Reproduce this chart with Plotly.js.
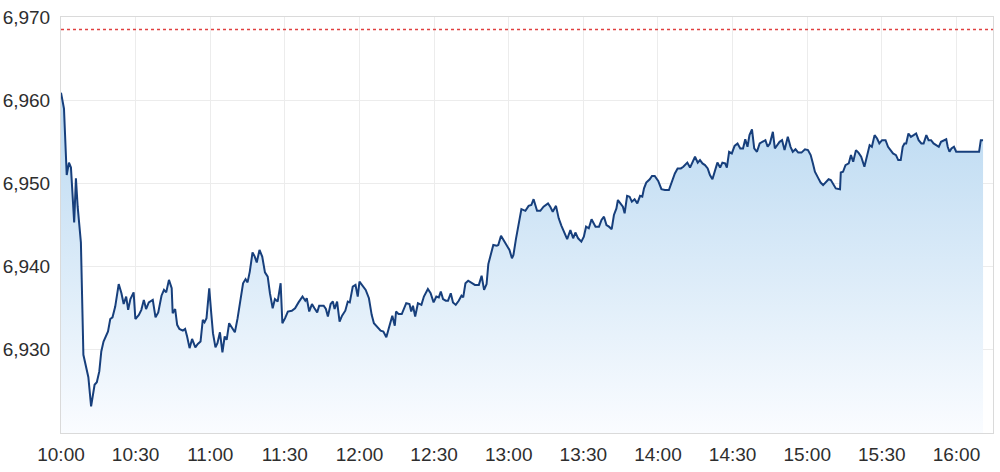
<!DOCTYPE html>
<html>
<head>
<meta charset="utf-8">
<script src="https://cdn.plot.ly/plotly-3.0.1.min.js"></script>
<style>
  html, body { margin: 0; padding: 0; background: #ffffff; }
  #chart { width: 1000px; height: 472px; }
</style>
</head>
<body>
<div id="chart"></div>
<script>
// Intraday index level, minutes after 10:00 and the traded level
const tradeDate = '2024-03-08';
const minutes = [
  0, 1.2, 2.3, 3.2, 4, 5.3, 6, 6.7, 8, 9, 11, 12.1, 13.5, 14.4, 15.4, 16.2, 17.1, 18.9, 19.8, 20.7,
  21.8, 23.2, 24.3, 25.2, 26.2, 27, 27.9, 29.2, 29.9, 31.3, 32.3, 33.3, 34.2, 35.3, 36.9, 38, 39.1, 40.4, 41.4, 42.3,
  43.4, 44.5, 44.9, 45.9, 46.7, 47.6, 49.0, 49.9, 50.7, 51.7, 52.7, 54.0, 55.0, 56.1, 57.0, 57.7, 58.5, 59.6, 60.4, 61.1,
  62.1, 62.9, 63.9, 64.9, 65.8, 66.6, 67.6, 68.8, 69.9, 71.0, 71.9, 73.2, 74.2, 75.0, 75.9, 77.0, 77.9, 78.7, 79.8, 80.9,
  82.0, 83.1, 84.0, 85.1, 86.0, 87.1, 88.3, 89.0, 90.1, 91.2, 92.8, 94.1, 95.5, 97.1, 98.2, 98.8, 99.8, 100.9, 101.9, 103.0,
  103.8, 105.6, 106.5, 107.3, 108.4, 109.3, 110.0, 111.0, 112.0, 113.0, 114.3, 115.3, 116.1, 117.3, 118.4, 119.3, 120.0, 121.1, 122.5, 123.8,
  124.9, 125.8, 127.2, 128.5, 129.6, 130.8, 131.9, 133.2, 134.2, 134.7, 135.7, 137.0, 138.8, 140.1, 140.8, 141.5, 142.4, 143.5, 144.9, 145.9,
  147.5, 148.6, 149.8, 150.9, 151.9, 152.7, 153.6, 154.7, 155.6, 156.7, 157.6, 158.7, 159.9, 161.0, 161.7, 162.6, 163.7, 165.1, 166.4, 168.0,
  169.1, 170.1, 171.1, 171.8, 172.9, 173.8, 175.2, 175.8, 176.9, 178.3, 179.5, 180.3, 181.3, 181.9, 182.9, 183.7, 185.1, 186.7, 188.0, 189.1,
  190.0, 191.4, 192.7, 194.0, 195.8, 196.7, 197.7, 199.0, 200.1, 201.2, 202.4, 203.5, 204.8, 205.9, 206.8, 207.9, 209.2, 210.2, 211.1, 212.2,
  213.3, 214.2, 214.9, 216.3, 217.3, 218.3, 219.3, 220.3, 221.4, 222.3, 223.3, 223.9, 224.9, 225.9, 226.6, 227.6, 228.6, 229.5, 230.6, 231.7,
  232.8, 233.7, 234.4, 235.3, 236.7, 237.6, 238.7, 240.1, 241.4, 242.8, 244.4, 245.5, 246.8, 247.9, 249.2, 250.2, 250.8, 251.8, 252.9, 253.8,
  254.9, 256.0, 256.9, 257.9, 258.9, 260.0, 260.9, 261.9, 262.9, 263.9, 265.0, 265.9, 267.0, 267.7, 268.6, 269.7, 270.8, 272.0, 273.1, 274.2,
  275.1, 276.0, 276.8, 277.8, 278.7, 279.8, 280.9, 282.1, 283.2, 284.1, 285.0, 286.2, 287.0, 288.9, 289.9, 290.9, 292.2, 293.3, 294.2, 295.3,
  296.4, 297.7, 299.1, 300.3, 301.4, 302.3, 303.1, 304.5, 305.4, 306.4, 307.5, 308.6, 309.5, 310.4, 311.5, 313.2, 313.5, 314.4, 315.4, 316.7,
  317.6, 318.5, 319.6, 320.6, 321.7, 323.0, 324.0, 325.1, 326.0, 327.1, 328.1, 329.0, 330.1, 331.5, 332.5, 333.5, 334.5, 335.7, 336.6, 337.6,
  338.4, 339.1, 339.8, 340.7, 341.7, 342.8, 343.8, 344.8, 345.9, 346.8, 347.9, 348.8, 349.8, 350.8, 351.9, 352.9, 353.8, 354.9, 355.9, 356.5,
  357.2, 358.0, 359.0, 359.9, 369.1, 369.8, 370.7
];
const levels = [
  6960.9, 6959.0, 6951.0, 6952.5, 6951.9, 6945.3, 6950.6, 6947.2, 6942.9, 6929.4, 6926.7, 6923.2, 6925.8, 6926.1, 6927.4, 6929.8, 6931.0, 6932.2, 6933.7, 6933.9,
  6935.2, 6937.9, 6936.8, 6935.5, 6936.4, 6934.8, 6936.1, 6936.9, 6933.7, 6934.2, 6934.8, 6936.0, 6934.9, 6935.7, 6936.0, 6933.9, 6934.5, 6936.5, 6937.2, 6936.9,
  6938.4, 6937.4, 6934.4, 6934.9, 6933.0, 6932.5, 6932.3, 6932.5, 6931.6, 6930.2, 6931.3, 6930.3, 6930.7, 6931.0, 6933.6, 6933.3, 6933.8, 6937.4, 6934.4, 6932.0,
  6930.3, 6930.8, 6932.1, 6929.7, 6931.6, 6931.2, 6933.2, 6932.7, 6932.1, 6933.8, 6935.4, 6938.0, 6938.5, 6938.1, 6939.4, 6941.7, 6941.2, 6940.5, 6942.0, 6941.2,
  6939.3, 6938.8, 6936.8, 6935.0, 6936.1, 6935.8, 6938.0, 6933.2, 6933.8, 6934.6, 6934.7, 6935.0, 6935.7, 6936.4, 6935.9, 6936.2, 6934.6, 6935.5, 6935.0, 6934.5,
  6935.3, 6935.3, 6934.9, 6934.0, 6935.5, 6935.8, 6934.9, 6935.8, 6933.4, 6934.1, 6934.7, 6935.8, 6935.7, 6937.6, 6937.8, 6936.4, 6938.2, 6937.8, 6937.2, 6936.2,
  6934.2, 6933.2, 6932.7, 6932.3, 6932.2, 6931.5, 6932.7, 6934.1, 6932.9, 6934.6, 6934.3, 6934.3, 6935.6, 6935.5, 6934.6, 6935.3, 6934.0, 6935.6, 6935.4, 6936.4,
  6937.3, 6936.8, 6935.7, 6936.4, 6936.3, 6937.0, 6936.1, 6935.9, 6935.9, 6936.8, 6935.7, 6935.4, 6935.9, 6936.5, 6936.3, 6938.0, 6938.3, 6938.0, 6937.8, 6937.8,
  6938.9, 6937.2, 6937.9, 6940.3, 6941.4, 6942.6, 6942.5, 6942.6, 6943.7, 6943.0, 6942.4, 6942.0, 6941.0, 6941.4, 6943.3, 6944.6, 6946.9, 6946.7, 6947.3, 6947.4,
  6948.1, 6946.7, 6946.7, 6947.2, 6947.6, 6947.2, 6946.6, 6947.3, 6945.8, 6944.9, 6944.0, 6943.3, 6944.4, 6943.4, 6944.1, 6943.4, 6943.0, 6943.6, 6944.8, 6944.6,
  6945.7, 6945.2, 6944.8, 6944.8, 6945.6, 6946.0, 6945.0, 6944.8, 6944.5, 6946.2, 6947.0, 6948.0, 6947.6, 6947.2, 6946.4, 6948.5, 6948.4, 6947.8, 6948.1, 6947.6,
  6948.5, 6948.4, 6949.4, 6950.1, 6950.5, 6950.9, 6950.9, 6950.3, 6949.3, 6949.2, 6949.2, 6950.2, 6951.2, 6951.8, 6951.8, 6952.0, 6952.2, 6952.5, 6951.9, 6952.5,
  6953.2, 6952.5, 6952.8, 6952.4, 6952.2, 6951.8, 6951.0, 6950.5, 6951.4, 6952.5, 6951.9, 6952.5, 6952.4, 6951.9, 6953.8, 6953.6, 6954.5, 6954.8, 6954.2, 6954.2,
  6955.3, 6954.4, 6955.8, 6956.5, 6954.2, 6953.8, 6954.8, 6955.0, 6955.2, 6954.4, 6954.8, 6956.2, 6954.2, 6955.0, 6955.2, 6954.0, 6955.6, 6954.4, 6953.8, 6954.1,
  6953.7, 6953.7, 6954.1, 6954.0, 6953.4, 6952.4, 6951.4, 6950.6, 6950.1, 6949.8, 6950.1, 6950.5, 6950.4, 6950.0, 6949.4, 6949.3, 6951.3, 6951.4, 6952.2, 6952.4,
  6953.4, 6952.6, 6954.0, 6953.7, 6953.2, 6952.0, 6953.2, 6954.6, 6954.4, 6955.8, 6955.4, 6954.8, 6955.2, 6955.2, 6954.4, 6954.0, 6953.6, 6953.4, 6952.8, 6952.8,
  6954.4, 6954.8, 6954.8, 6956.0, 6955.6, 6955.8, 6956.0, 6955.2, 6954.8, 6954.8, 6955.8, 6955.2, 6955.2, 6954.8, 6954.6, 6954.4, 6955.0, 6955.2, 6955.3, 6954.4,
  6953.8, 6954.2, 6954.4, 6953.8, 6953.8, 6955.2, 6955.2
];

// Previous close reference level (red dotted line)
const prevClose = 6968.5;
const yTicks = [6930, 6940, 6950, 6960, 6970];

const pad = (n) => String(n).padStart(2, '0');

// Turn minutes after 10:00 into a plotly date string
function toTime(m) {
  const totalSec = Math.round(m * 60);
  const h = 10 + Math.floor(totalSec / 3600);
  const mm = Math.floor((totalSec % 3600) / 60);
  const ss = totalSec % 60;
  return `${tradeDate} ${pad(h)}:${pad(mm)}:${pad(ss)}`;
}

const times = minutes.map(toTime);

var levelTrace = {
  x: times,
  y: levels,
  type: 'scatter',
  mode: 'lines',
  line: { color: '#173f7c', width: 2 },
  fill: 'tozeroy',
  fillgradient: {
    type: 'vertical',
    start: 6920,
    stop: 6958,
    colorscale: [
      [0, 'rgba(250,252,255,1)'],
      [1, 'rgba(190,219,242,1)'],
    ],
  },
  hoverinfo: 'skip',
};

var layout = {
  width: 1000,
  height: 472,
  margin: { l: 61, r: 7, t: 17, b: 39, pad: 0 },
  paper_bgcolor: '#ffffff',
  plot_bgcolor: '#ffffff',
  showlegend: false,
  font: { family: '"Liberation Sans", Arial, sans-serif', size: 19, color: '#2e2e2e' },
  xaxis: {
    type: 'date',
    range: [toTime(0), toTime(374.7)],
    tick0: toTime(0),
    dtick: 30 * 60 * 1000,
    tickformat: '%H:%M',
    showgrid: true,
    gridcolor: '#ececec',
    gridwidth: 1,
    showline: true,
    linecolor: '#dadada',
    linewidth: 1,
    mirror: true,
    zeroline: false,
    ticks: '',
    ticklabelstandoff: 4,
    tickfont: { size: 19, color: '#2e2e2e' },
  },
  yaxis: {
    range: [6920, 6970],
    tickvals: yTicks,
    tickformat: ',.0f',
    showgrid: true,
    gridcolor: '#ececec',
    gridwidth: 1,
    showline: true,
    linecolor: '#dadada',
    linewidth: 1,
    mirror: true,
    zeroline: false,
    ticks: '',
    ticklabelstandoff: 6,
    tickfont: { size: 19, color: '#2e2e2e' },
  },
  shapes: [
    {
      type: 'line',
      xref: 'paper',
      x0: 0,
      x1: 1,
      yref: 'y',
      y0: prevClose,
      y1: prevClose,
      line: { color: '#e04040', width: 1.3, dash: 'dot' },
    },
  ],
};

var config = { responsive: false, displayModeBar: false, staticPlot: true };

Plotly.newPlot('chart', [levelTrace], layout, config);
</script>
</body>
</html>
